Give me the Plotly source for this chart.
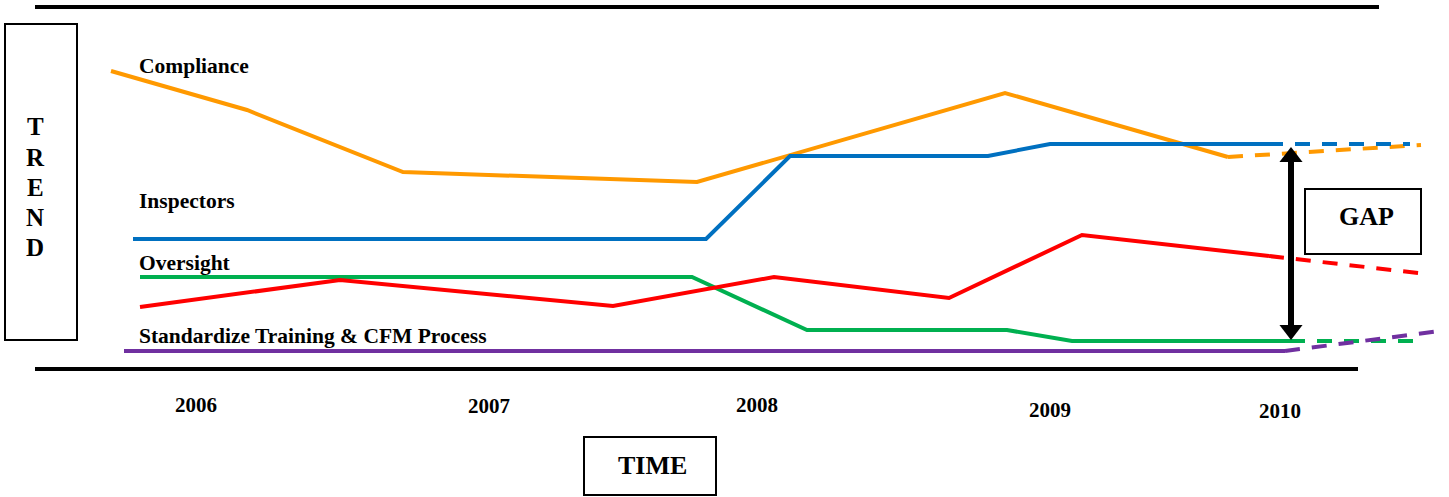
import plotly.graph_objects as go

# ---- series (x = time position, y = trend level on a top-down axis) ----
compliance_x = [111, 247, 403, 697, 1005, 1228]
compliance_y = [71, 110, 172, 182, 93, 157]
compliance_fx = [1228, 1421]
compliance_fy = [157, 145]

inspectors_x = [133, 706, 790, 988, 1050, 1268]
inspectors_y = [239, 239, 156, 156, 144, 144]
inspectors_fx = [1268, 1410]
inspectors_fy = [144, 144]

oversight_x = [140, 692, 807, 1007, 1072, 1290]
oversight_y = [277, 277, 330, 330, 341, 341]
oversight_fx = [1290, 1421]
oversight_fy = [341, 341]

red_x = [140, 340, 613, 774, 949, 1082, 1269]
red_y = [307, 280, 306, 277, 298, 235, 256]
red_fx = [1269, 1427]
red_fy = [256, 274]

training_x = [124, 1285]
training_y = [351, 351]
training_fx = [1285, 1440]
training_fy = [351, 331]

# ---- labels ----
series_labels = ["Compliance", "Inspectors", "Oversight", "Standardize Training & CFM Process"]
series_label_x = [137, 137, 137, 137]
series_label_y = [66, 201, 263, 336]

years = ["2006", "2007", "2008", "2009", "2010"]
year_x = [196, 489, 757, 1050, 1280]
year_y = [405, 406, 405, 410, 411]

trend_letters = ["T", "R", "E", "N", "D"]
trend_y = [126, 157, 187, 217, 247]

gap_x = [1291, 1291]
gap_y = [147, 340]

ORANGE = "#FF9900"
BLUE = "#0070C0"
GREEN = "#00B050"
RED = "#FF0000"
PURPLE = "#7030A0"
FONT = "Liberation Serif"

fig = go.Figure()


def add_series(x, y, fx, fy, color):
    fig.add_trace(go.Scatter(x=x, y=y, mode="lines",
                             line=dict(color=color, width=4),
                             hoverinfo="skip", showlegend=False))
    fig.add_trace(go.Scatter(x=fx, y=fy, mode="lines",
                             line=dict(color=color, width=4, dash="15px,12px"),
                             hoverinfo="skip", showlegend=False))


add_series(compliance_x, compliance_y, compliance_fx, compliance_fy, ORANGE)
add_series(inspectors_x, inspectors_y, inspectors_fx, inspectors_fy, BLUE)
add_series(oversight_x, oversight_y, oversight_fx, oversight_fy, GREEN)
add_series(red_x, red_y, red_fx, red_fy, RED)
add_series(training_x, training_y, training_fx, training_fy, PURPLE)

# gap arrow (double headed)
fig.add_trace(go.Scatter(x=gap_x, y=[gap_y[0] + 12, gap_y[1] - 12], mode="lines",
                         line=dict(color="black", width=6),
                         hoverinfo="skip", showlegend=False))
fig.add_trace(go.Scatter(x=gap_x, y=[gap_y[0] + 10, gap_y[1] - 10], mode="markers",
                         marker=dict(symbol=["triangle-up", "triangle-down"], size=20,
                                     color="black", line=dict(width=0)),
                         hoverinfo="skip", showlegend=False))

shapes = [
    # top and bottom rules
    dict(type="line", x0=35, x1=1379, y0=7, y1=7, line=dict(color="black", width=4)),
    dict(type="line", x0=35, x1=1358, y0=369, y1=369, line=dict(color="black", width=4)),
    # TREND box
    dict(type="rect", x0=5, x1=77, y0=24, y1=340, line=dict(color="black", width=2)),
    # GAP box
    dict(type="rect", x0=1305, x1=1421, y0=189, y1=254, line=dict(color="black", width=2)),
    # TIME box
    dict(type="rect", x0=584, x1=716, y0=437, y1=495, line=dict(color="black", width=2)),
]

annotations = []
for t, x, y in zip(series_labels, series_label_x, series_label_y):
    annotations.append(dict(x=x, y=y, text=f"<b>{t}</b>", showarrow=False,
                            xanchor="left", yanchor="middle",
                            font=dict(family=FONT, size=21.5, color="black")))
for t, x, y in zip(years, year_x, year_y):
    annotations.append(dict(x=x, y=y, text=f"<b>{t}</b>", showarrow=False,
                            xanchor="center", yanchor="middle",
                            font=dict(family=FONT, size=21, color="black")))
for t, y in zip(trend_letters, trend_y):
    annotations.append(dict(x=35, y=y, text=f"<b>{t}</b>", showarrow=False,
                            xanchor="center", yanchor="middle",
                            font=dict(family=FONT, size=25, color="black")))
annotations.append(dict(x=1366, y=216, text="<b>GAP</b>", showarrow=False,
                        xanchor="center", yanchor="middle",
                        font=dict(family=FONT, size=26, color="black")))
annotations.append(dict(x=652, y=465, text="<b>TIME</b>", showarrow=False,
                        xanchor="center", yanchor="middle",
                        font=dict(family=FONT, size=26, color="black")))

fig.update_layout(
    width=1449, height=497,
    margin=dict(l=0, r=0, t=0, b=0),
    paper_bgcolor="white", plot_bgcolor="white",
    xaxis=dict(range=[0, 1449], visible=False, fixedrange=True),
    yaxis=dict(range=[497, 0], visible=False, fixedrange=True),
    shapes=shapes, annotations=annotations,
    showlegend=False,
)

fig.write_html("out.html", config={"displayModeBar": False})
